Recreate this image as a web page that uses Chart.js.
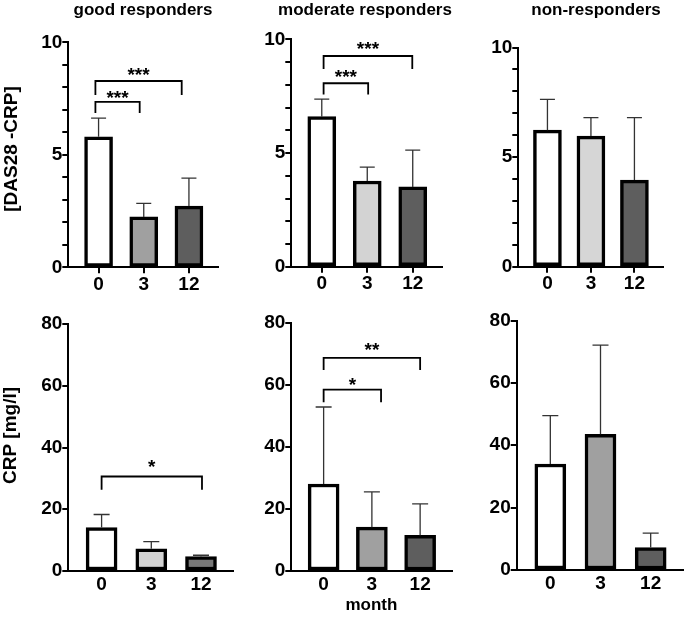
<!DOCTYPE html>
<html><head><meta charset="utf-8">
<script src="https://cdn.jsdelivr.net/npm/chart.js@4.4.0/dist/chart.umd.min.js"></script>
<style>
html,body{margin:0;padding:0;background:#fff;}
#wrap{position:relative;width:685px;height:617px;overflow:hidden;background:#fff;}
#wrap canvas{position:absolute;left:0;top:0;}
</style></head><body><div id="wrap">
<canvas id="c0" width="760" height="617"></canvas>
<canvas id="c1" width="760" height="617"></canvas>
<canvas id="c2" width="760" height="617"></canvas>
<canvas id="c3" width="760" height="617"></canvas>
<canvas id="c4" width="760" height="617"></canvas>
<canvas id="c5" width="760" height="617"></canvas>
</div>
<script>
// ---------- data ----------
const months = ['0', '3', '12'];
const panelTitles = ['good responders', 'moderate responders', 'non-responders'];
const yTitleDas = '[DAS28 -CRP]';
const yTitleCrp = 'CRP [mg/l]';
const xTitle = 'month';
const dasTickLabels = [0, 5, 10];
const crpTickLabels = [0, 20, 40, 60, 80];

const dasGood = [5.8, 2.24, 2.72];
const dasGoodErr = [0.83, 0.6, 1.24];
const dasModerate = [6.6, 3.77, 3.51];
const dasModerateErr = [0.77, 0.61, 1.62];
const dasNon = [6.23, 5.96, 3.95];
const dasNonErr = [1.4, 0.84, 2.85];

const crpGood = [14.1, 7.2, 4.7];
const crpGoodErr = [4.2, 2.3, 0.4];
const crpModerate = [28.0, 14.1, 11.5];
const crpModerateErr = [24.8, 11.4, 10.1];
const crpNon = [34.0, 43.5, 7.2];
const crpNonErr = [15.5, 28.6, 4.6];

// significance brackets: [from, to, line level, leg end level, label level, label]
const sigDasGood = [[-0.07, 0.91, 7.35, 6.86, 7.67, '***'], [-0.07, 1.84, 8.28, 7.66, 8.72, '***']];
const sigDasModerate = [[0.04, 1.02, 8.07, 7.58, 8.5, '***'], [0.04, 1.99, 9.27, 8.7, 9.73, '***']];
const sigDasNon = [];
const sigCrpGood = [[0, 2.02, 30.6, 26.3, 34.8, '*']];
const sigCrpModerate = [[0, 1.19, 58.4, 54.3, 61.1, '*'], [0, 2.0, 68.6, 64.7, 72.4, '**']];
const sigCrpNon = [];

// ---------- styles ----------
const FONT = "'Liberation Sans', Arial, Helvetica, sans-serif";
const CW = 760, H = 617;

const errorBarPlugin = {
  id: 'errbars',
  afterDatasetsDraw(chart) {
    const ds = chart.data.datasets[0];
    const meta = chart.getDatasetMeta(0);
    const ys = chart.scales.y;
    const ctx = chart.ctx;
    const cap = chart.options.plugins.errbars.cap;
    ctx.save();
    ctx.strokeStyle = '#333';
    ctx.lineWidth = 1.3;
    meta.data.forEach((bar, i) => {
      const v = ds.data[i].y, e = ds.errors[i];
      const y0 = ys.getPixelForValue(v), y1 = ys.getPixelForValue(v + e);
      ctx.beginPath();
      ctx.moveTo(bar.x, y0); ctx.lineTo(bar.x, y1);
      ctx.moveTo(bar.x - cap / 2, y1); ctx.lineTo(bar.x + cap / 2, y1);
      ctx.stroke();
    });
    ctx.restore();
  }
};

const bracketPlugin = {
  id: 'brackets',
  afterDraw(chart) {
    const list = chart.options.plugins.brackets.list || [];
    const xs = chart.scales.x, ys = chart.scales.y, ctx = chart.ctx;
    ctx.save();
    ctx.strokeStyle = '#000';
    ctx.lineWidth = 1.8;
    ctx.fillStyle = '#000';
    ctx.font = 'bold 19px ' + FONT;
    ctx.textAlign = 'center';
    ctx.textBaseline = 'middle';
    list.forEach(b => {
      const xa = xs.getPixelForValue(b[0]), xb = xs.getPixelForValue(b[1]);
      const py = ys.getPixelForValue(b[2]), pl = ys.getPixelForValue(b[3]);
      ctx.beginPath();
      ctx.moveTo(xa, pl); ctx.lineTo(xa, py); ctx.lineTo(xb, py); ctx.lineTo(xb, pl);
      ctx.stroke();
      ctx.fillText(b[5], (xa + xb) / 2, ys.getPixelForValue(b[4]) + 4.2);
    });
    ctx.restore();
  }
};

const yTitlePlugin = {
  id: 'ytitle',
  afterDraw(chart) {
    const o = chart.options.plugins.ytitle;
    if (!o || !o.text) return;
    const ctx = chart.ctx;
    ctx.save();
    ctx.translate(o.x, o.y);
    ctx.rotate(-Math.PI / 2);
    ctx.fillStyle = '#000';
    ctx.font = 'bold 19px ' + FONT;
    ctx.textAlign = 'center';
    ctx.textBaseline = 'middle';
    ctx.fillText(o.text, 0, 0);
    ctx.restore();
  }
};

function makePanel(id, c) {
  const yW = 45;
  const titleH = 20.4;
  // width of an invisible right-hand box so the full-width title is centred at c.titleX
  const w2 = c.title ? (2 * c.titleX - (c.L - yW) - c.R) : 0;
  const pad = {
    left: c.L - yW,
    right: CW - c.R - w2,
    top: c.title ? 0 : c.T,
    bottom: H - c.B - c.xH
  };
  const tickFont = { family: FONT, size: 19, weight: 'bold' };
  const scales = {
    x: {
      type: 'linear',
      bounds: 'data',
      offset: false,
      min: -0.67,
      max: 2.65,
      afterBuildTicks: s => { s.ticks = [0, 1, 2].map(v => ({ value: v })); },
      afterFit: s => { s.height = c.xH; },
      grid: { display: true, offset: false, drawOnChartArea: false, drawTicks: c.xTicks, tickLength: 6, color: '#000', lineWidth: 2 },
      border: { display: true, color: '#000', width: 2 },
      ticks: { callback: v => months[v], font: tickFont, color: '#000', padding: c.xTicks ? 0 : 2, maxRotation: 0, autoSkip: false },
      title: { display: !!c.xTitle, text: c.xTitle || '', color: '#000', font: { family: FONT, size: 17, weight: 'bold', lineHeight: 1.2 }, padding: { top: 0, bottom: 1 } }
    },
    y: {
      min: 0,
      max: c.max,
      afterFit: s => { s.width = yW; },
      grid: { display: true, drawOnChartArea: false, drawTicks: true, tickLength: 6, color: '#000', lineWidth: 2 },
      border: { display: true, color: '#000', width: 2 },
      ticks: { stepSize: c.step, autoSkip: false, callback: v => c.labels.includes(v) ? String(v) : '', font: tickFont, color: '#000', padding: 0 }
    }
  };
  if (c.title) {
    scales.spacer = {
      type: 'linear', position: 'right', display: true,
      afterFit: s => { s.width = w2; },
      grid: { display: false }, border: { display: false }, ticks: { display: false }
    };
  }
  new Chart(document.getElementById(id), {
    type: 'bar',
    data: {
      datasets: [{
        data: c.values.map((v, i) => ({ x: i, y: v })),
        errors: c.errors,
        backgroundColor: c.colors,
        borderColor: '#000',
        borderWidth: 3.5,
        borderSkipped: false,
        barThickness: c.barW
      }]
    },
    options: {
      responsive: false,
      animation: false,
      devicePixelRatio: 1,
      layout: { padding: pad },
      plugins: {
        legend: { display: false },
        tooltip: { enabled: false },
        title: {
          display: !!c.title,
          text: c.title || '',
          color: '#000',
          font: { family: FONT, size: 17, weight: 'bold', lineHeight: 1.2 },
          padding: { top: 0, bottom: c.T - titleH }
        },
        errbars: { cap: c.cap },
        brackets: { list: c.sig },
        ytitle: c.yTitle || {}
      },
      scales: scales
    },
    plugins: [errorBarPlugin, bracketPlugin, yTitlePlugin]
  });
}

const dasCommon = { max: 10, step: 1, labels: dasTickLabels, barW: 28, cap: 15, xTicks: true, xH: 30 };
const crpCommon = { max: 80, step: 20, labels: crpTickLabels, barW: 31, cap: 16, xTicks: false, xH: 46 };

makePanel('c0', Object.assign({}, dasCommon, { L: 68.3, R: 218.3, T: 42.3, B: 267.3, title: panelTitles[0], titleX: 143,
  values: dasGood, errors: dasGoodErr, sig: sigDasGood, colors: ['#ffffff', '#a0a0a0', '#5e5e5e'],
  yTitle: { text: yTitleDas, x: 11.7, y: 149 } }));
makePanel('c1', Object.assign({}, dasCommon, { L: 291.3, R: 442.3, T: 39.4, B: 266.7, title: panelTitles[1], titleX: 365,
  values: dasModerate, errors: dasModerateErr, sig: sigDasModerate, colors: ['#ffffff', '#d3d3d3', '#5e5e5e'] }));
makePanel('c2', Object.assign({}, dasCommon, { L: 518.3, R: 662.7, T: 47.5, B: 266.7, title: panelTitles[2], titleX: 596,
  values: dasNon, errors: dasNonErr, sig: sigDasNon, colors: ['#ffffff', '#d6d6d6', '#5e5e5e'] }));
makePanel('c3', Object.assign({}, crpCommon, { L: 68.3, R: 233.3, T: 324, B: 571,
  values: crpGood, errors: crpGoodErr, sig: sigCrpGood, colors: ['#ffffff', '#d3d3d3', '#787878'],
  yTitle: { text: yTitleCrp, x: 11.2, y: 435.5 } }));
makePanel('c4', Object.assign({}, crpCommon, { L: 291.3, R: 451.5, T: 322.5, B: 571, xTitle: xTitle,
  values: crpModerate, errors: crpModerateErr, sig: sigCrpModerate, colors: ['#ffffff', '#a0a0a0', '#5e5e5e'] }));
makePanel('c5', Object.assign({}, crpCommon, { L: 516.7, R: 683.3, T: 320.5, B: 570,
  values: crpNon, errors: crpNonErr, sig: sigCrpNon, colors: ['#ffffff', '#a0a0a0', '#5e5e5e'] }));
</script>
</body></html>
